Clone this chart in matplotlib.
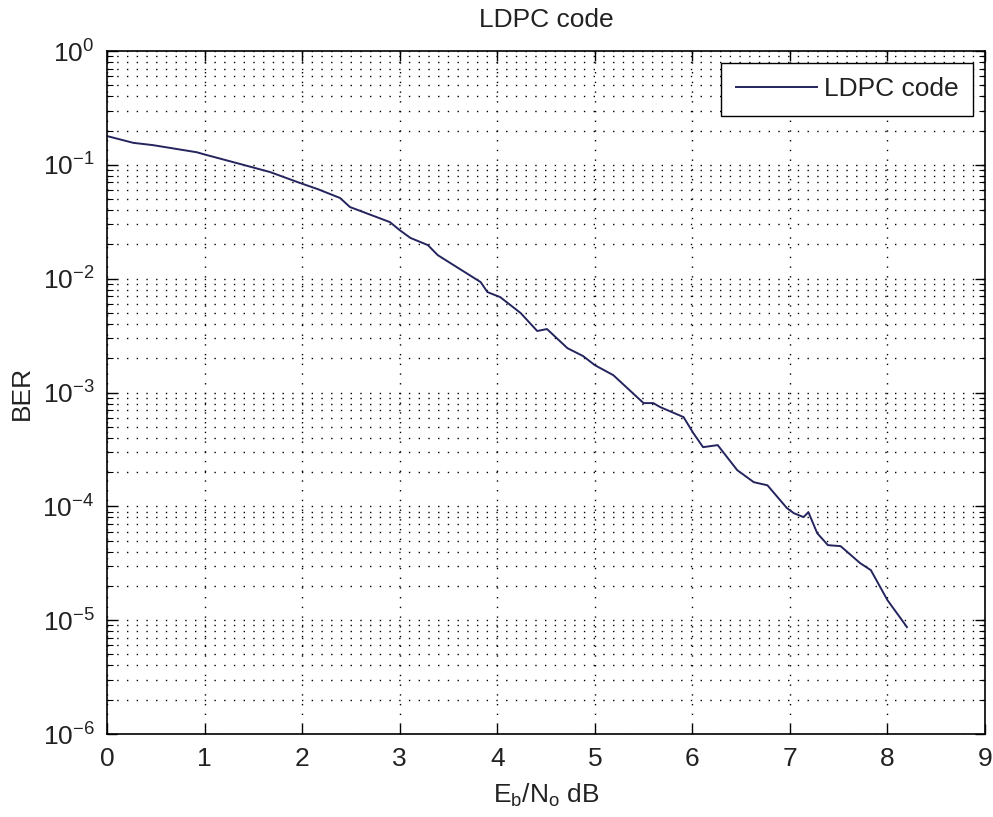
"""BER curve of an LDPC code, MATLAB-style semilogy plot"""
import numpy as np
import matplotlib
matplotlib.use('Agg')
import matplotlib.pyplot as plt
from matplotlib.ticker import FixedLocator, NullFormatter, LogFormatterSciNotation

plt.rcParams['font.family'] = ['Liberation Sans', 'DejaVu Sans']
plt.rcParams['mathtext.fontset'] = 'custom'
plt.rcParams['mathtext.rm'] = 'Liberation Sans'
plt.rcParams['mathtext.it'] = 'Liberation Sans'
plt.rcParams['mathtext.default'] = 'regular'

# Eb/No (dB) and BER
ebno_db = [0.0, 0.27, 0.47, 0.92, 0.99, 1.36, 1.67, 1.98, 2.16, 2.39, 2.49,
           2.90, 3.0, 3.11, 3.29, 3.39, 3.83, 3.90, 4.03, 4.24, 4.41, 4.51,
           4.72, 4.88, 5.0, 5.19, 5.5, 5.6, 5.67, 5.91, 6.01, 6.11, 6.26,
           6.46, 6.63, 6.77, 6.97, 7.04, 7.14, 7.19, 7.28, 7.39, 7.52, 7.72,
           7.83, 8.0, 8.2]
ber = [0.179, 0.156, 0.149, 0.129, 0.124, 0.102, 0.0865, 0.0692, 0.0612,
       0.0511, 0.0426, 0.0314, 0.0267, 0.0228, 0.0197, 0.0161, 0.00933,
       0.00762, 0.00689, 0.00499, 0.00347, 0.00361, 0.00245, 0.00209,
       0.00174, 0.00142, 8.07e-4, 8.07e-4, 7.45e-4, 6.08e-4, 4.40e-4,
       3.31e-4, 3.45e-4, 2.08e-4, 1.63e-4, 1.53e-4, 9.64e-5, 8.71e-5,
       8.04e-5, 8.89e-5, 5.81e-5, 4.56e-5, 4.47e-5, 3.17e-5, 2.75e-5,
       1.50e-5, 8.7e-6]
x_ticks = list(range(10))
y_decades = [-6, -5, -4, -3, -2, -1, 0]

fs = 19
txt = '#222222'
W, H = 993, 817
fig = plt.figure(figsize=(W / 100, H / 100), dpi=100, facecolor='white')
ax = fig.add_axes([107 / W, (H - 734) / H, 878 / W, 683 / H])

ax.semilogy(ebno_db, ber, color='#24245e', linewidth=1.4, label='LDPC code')

ax.set_xlim(0, 9)
ax.set_ylim(1e-6, 1e0)
y_major = [10.0 ** d for y in [0] for d in y_decades]
y_minor = [m * 10.0 ** d for d in y_decades[:-1] for m in range(2, 10)]
ax.xaxis.set_major_locator(FixedLocator(x_ticks))
ax.yaxis.set_major_locator(FixedLocator(y_major))
ax.yaxis.set_major_formatter(LogFormatterSciNotation())
ax.yaxis.set_minor_locator(FixedLocator(y_minor))
ax.yaxis.set_minor_formatter(NullFormatter())

# dotted MATLAB-like grid
dot = (0, (1, 6))
ax.grid(True, which='major', color='black', linestyle=dot, linewidth=1.0)
ax.grid(True, which='minor', axis='y', color='black', linestyle=dot, linewidth=1.0)

ax.tick_params(which='both', direction='in', top=True, right=True,
               labelsize=fs, colors='black', labelcolor=txt)
ax.tick_params(which='major', length=7, width=1.0)
ax.tick_params(axis='x', which='major', pad=9)
ax.tick_params(axis='y', which='major', pad=9)
ax.tick_params(which='minor', length=4, width=0.8)
for sp in ax.spines.values():
    sp.set_linewidth(1.2)
    sp.set_color('black')

ax.set_title('LDPC code', fontsize=fs, pad=17, color=txt)
ax.set_xlabel('$E_b/N_o$ dB', fontsize=fs, labelpad=8, color=txt)
ax.set_ylabel('BER', fontsize=fs, labelpad=6, color=txt)

leg = ax.legend(loc='upper right', fontsize=fs, frameon=True, fancybox=False,
                borderaxespad=0.45, handlelength=3.1, handletextpad=0.25,
                borderpad=0.55)
leg.get_frame().set_edgecolor('black')
leg.get_frame().set_linewidth(1.0)
leg.get_frame().set_alpha(1.0)
for t in leg.get_texts():
    t.set_color(txt)

fig.savefig('out.png', dpi=100, facecolor='white')
